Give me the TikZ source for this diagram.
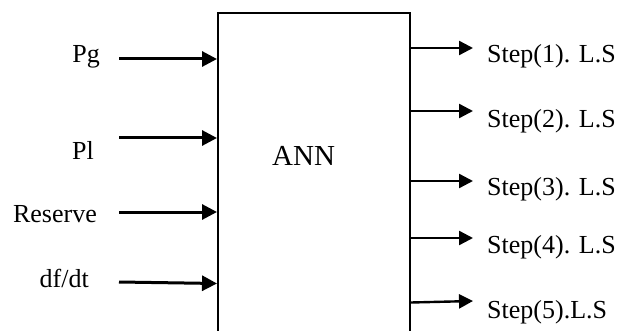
\documentclass[tikz,border=0pt]{standalone}
\usepackage{fontspec}
\setmainfont{Liberation Serif}
\usetikzlibrary{positioning,arrows.meta}

\begin{document}
\begin{tikzpicture}[
  x=1pt, y=-1pt,
  font=\fontsize{26}{30}\selectfont,
  blk/.style   = {draw, line width=2pt, minimum width=192pt,
                  minimum height=340pt, inner sep=0pt},
  lbl/.style   = {inner sep=0pt},
  ar/.style    = {-{Triangle[length=15pt,width=15pt]}, line width=3pt},
  arout/.style = {-{Triangle[length=14pt,width=14pt]}, line width=2.4pt}
]
\useasboundingbox (0,0) rectangle (617,331);

% ---- the network block ----------------------------------------------------
\node[blk] (ann) at (314,183) {};
\node[lbl, anchor=base west, font=\fontsize{29}{34}\selectfont] (annt)
  at (272,165) {ANN};

% ---- inputs ---------------------------------------------------------------
\coordinate (pgt)  at (119,59);
\coordinate (plt)  at (119,138);
\coordinate (rst)  at (119,212);
\coordinate (dft)  at (119,282);

\node[lbl, anchor=base east] (pg)  at (100,63)  {Pg};
\node[lbl, anchor=base east] (pl)  at (94,159)  {Pl};
\node[lbl, anchor=base east] (rs)  at (97,222)  {Reserve};
\node[lbl, anchor=base east] (df)  at (89,287)  {df/dt};

\draw[ar] (pgt) -- (pgt -| ann.west);
\draw[ar] (plt) -- (plt -| ann.west);
\draw[ar] (rst) -- (rst -| ann.west);
\draw[ar] (dft) -- ([yshift=-1.5pt]dft -| ann.west);

% ---- load shedding steps --------------------------------------------------
\coordinate (s1t) at (473,48);
\coordinate (s2t) at (473,111);
\coordinate (s3t) at (473,181);
\coordinate (s4t) at (473,238);
\coordinate (s5t) at (473,301);

\node[lbl, anchor=base west] (s1) at (487,63)  {Step(1). L.S};
\node[lbl, anchor=base west] (s2) at (487,128) {Step(2). L.S};
\node[lbl, anchor=base west] (s3) at (487,195) {Step(3). L.S};
\node[lbl, anchor=base west] (s4) at (487,253) {Step(4). L.S};
\node[lbl, anchor=base west] (s5) at (487,318) {Step(5).L.S};

\draw[arout] (s1t -| ann.east) -- (s1t);
\draw[arout] (s2t -| ann.east) -- (s2t);
\draw[arout] (s3t -| ann.east) -- (s3t);
\draw[arout] (s4t -| ann.east) -- (s4t);
\draw[arout] ([yshift=-1.5pt]s5t -| ann.east) -- (s5t);

\end{tikzpicture}
\end{document}
